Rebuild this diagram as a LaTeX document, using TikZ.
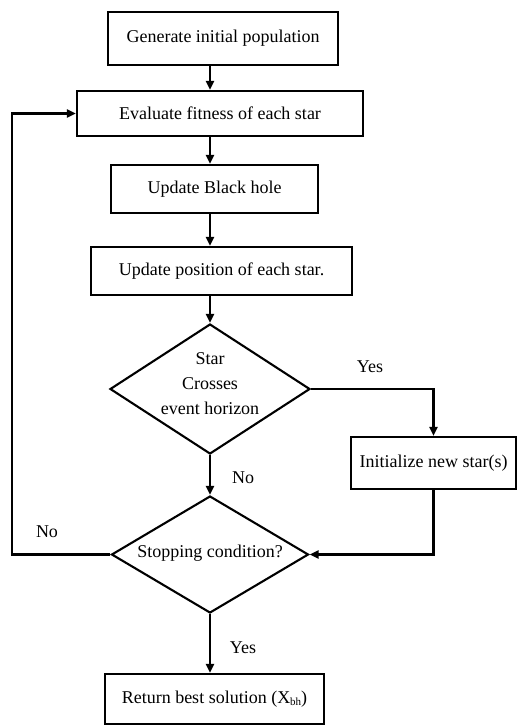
\documentclass[tikz,border=0pt]{standalone}
\usepackage{fontspec}
\setmainfont{Liberation Serif}
\usetikzlibrary{shapes.geometric,arrows.meta,calc}
\begin{document}
\begin{tikzpicture}[x=1pt,y=-1pt,
  every node/.style={font=\fontsize{18}{25}\selectfont},
  box/.style={draw, line width=2.1pt, rectangle, inner sep=0pt},
  dia/.style={draw, line width=2.1pt, diamond, inner sep=0pt},
  conn/.style={line width=2.1pt},
  arr/.style={line width=2.1pt, -{Triangle[length=9pt,width=8pt]}},
  lbl/.style={inner sep=0pt, align=center}]
\useasboundingbox (0,0) rectangle (518,725);
\fill[white] (0,0) rectangle (518,725);
\coordinate (sp) at (210,0);
\coordinate (lp) at (12,0);

\node[box, minimum width=230pt, minimum height=53pt] (b1) at (223,38.5) {Generate initial population};
\node[box, minimum width=286pt, minimum height=45pt] (b2) at (220,113.5) {Evaluate fitness of each star};
\node[box, minimum width=207pt, minimum height=48pt] (b3) at (214.5,189) {Update Black hole};
\node[box, minimum width=261pt, minimum height=48pt] (b4) at (221.5,271) {Update position of each star.};
\node[dia, minimum width=200pt, minimum height=130pt] (d1) at (210,389) {};
\node[lbl] (t1) at (210,384) {Star\\Crosses\\event horizon};
\node[box, minimum width=165pt, minimum height=52pt] (b5) at (433.5,463) {Initialize new star(s)};
\node[dia, minimum width=197pt, minimum height=117pt] (d2) at (210,554.5) {};
\node[lbl] (t2) at (210,553) {Stopping condition?};
\node[box, minimum width=219pt, minimum height=50pt] (b6) at (214.5,699) {Return best solution (X\raisebox{-0.25ex}{\fontsize{11}{11}\selectfont bh})};

\node[lbl] (yes1) at (370,367) {Yes};
\node[lbl] (no1) at (243,478) {No};
\node[lbl] (no2) at (47,532) {No};
\node[lbl] (yes2) at (243,648) {Yes};

\draw[arr] (b1.south -| sp) -- (b2.north -| sp);
\draw[arr] (b2.south -| sp) -- (b3.north -| sp);
\draw[arr] (b3.south -| sp) -- (b4.north -| sp);
\draw[arr] (b4.south -| sp) -- (d1.north);
\draw[arr] (d1.east) -| (b5.north);
\draw[arr] (d1.south) -- (d2.north);
\draw[arr] (b5.south) |- (d2.east);
\draw[arr] (d2.south) -- (b6.north -| sp);
\draw[arr] (d2.west) -- (d2.west -| lp) |- (b2.west);
\end{tikzpicture}
\end{document}
